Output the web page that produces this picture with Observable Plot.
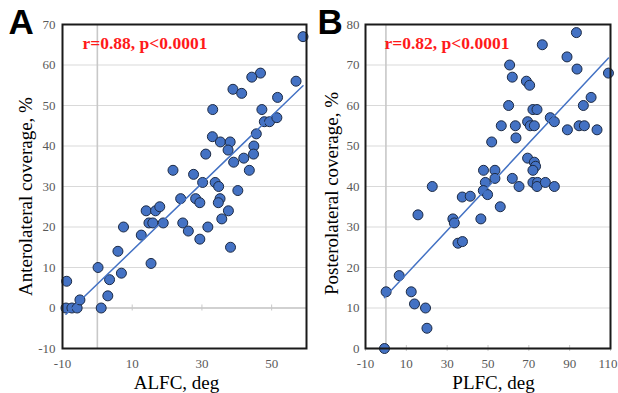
<!DOCTYPE html>
<html><head><meta charset="utf-8">
<script src="https://cdn.jsdelivr.net/npm/d3@7"></script>
<script src="https://cdn.jsdelivr.net/npm/@observablehq/plot@0.6"></script>
<style>
body{margin:0;background:#fff}
#wrap{display:flex;width:618px;height:393px;overflow:hidden}
</style>
</head><body><div id="wrap"></div>
<script>
// Panel A: ALFC (deg) vs anterolateral coverage (%)
const alfc = [59,46.8,44.3,57,38.9,41.4,51.7,33.1,47.2,47.9,49.4,51.5,45.6,33,35.3,38.1,44.9,37.5,44.8,31.1,42,39.1,43.6,21.7,27.6,30.2,33.8,34.8,40.3,23.9,28.2,35.2,29.4,34.7,14,16.7,17.9,14.8,15.9,18.9,12.6,7.5,24.5,26.1,29.4,31.7,35.7,37.6,38.2,15.4,5.9,6.9,0.2,3.5,3,1.1,-8.8,-9,-7.3,-5.8,-5];
const antCov = [67,58,57,56,54,53,52,49,49,46,46,47,43,42.3,41,41,40,39,38,38,37,36,34,34,33,31,31,30,29,27,27,27,26,26,24,24,25,21,21,21,18,20,21,19,17,20,22,24,15,11,14,8.6,10,7,3,0,6.6,0,0,0,2];
// Panel B: PLFC (deg) vs posterolateral coverage (%)
const plfc = [93.3,76.6,88.7,60.6,93.6,109,61.9,68.8,70.4,100.5,60.1,96.7,72,74,80.5,69.4,82.5,56.5,63.4,70.7,72.7,94.6,97.2,88.9,103.4,63.7,51.8,69.4,72.7,73.3,72,47.8,53.4,48.7,53.4,61.9,65.2,72,74.3,74,78.1,82.5,22.7,47.7,49.8,37.4,41.3,56,15.7,32.8,46.5,33.5,35.3,37.5,6.5,0.1,12.4,14,19.4,20.1,-0.7];
const postCov = [78,75,72,70,69,68,67,66,65,62,60,60,59,59,57,56,56,55,55,55,55,55,55,54,54,52,51,47,46,45,44,44,44,41,42,42,40,41,41,40,41,40,40,39,38,37.4,37.6,35,33,32,32,31,26,26.4,18,14,14,11,10,5,0];

const xTicksA = [-10,10,30,50];
const yTicksA = [-10,0,10,20,30,40,50,60,70];
const xTicksB = [-10,10,30,50,70,90,110];
const yTicksB = [0,10,20,30,40,50,60,70,80];

const panels = [
  {letter:"A", xs:alfc, ys:antCov, xDomain:[-10,60], yDomain:[-10,70], xTicks:xTicksA, yTicks:yTicksA,
   stat:"r=0.88, p<0.0001", xLabel:"ALFC, deg", yLabel:"Anterolateral coverage, %",
   mL:62, mR:3, letterDx:-54, statDx:20, yLabDx:-30.5, yLabDy:10, xLabDx:-8, yPad:7, lastEdge:false},
  {letter:"B", xs:plfc, ys:postCov, xDomain:[-10,110], yDomain:[0,80], xTicks:xTicksB, yTicks:yTicksB,
   stat:"r=0.82, p<0.0001", xLabel:"PLFC, deg", yLabel:"Posterolateral coverage, %",
   mL:56, mR:8, letterDx:-48, statDx:19, yLabDx:-28, yLabDy:7, xLabDx:5.5, yPad:6, lastEdge:true}
];

const wrap = document.getElementById("wrap");
for (const p of panels) {
  const data = p.xs.map((x, i) => ({x, y: p.ys[i]}));
  const serif = "Liberation Serif, Times New Roman, serif";
  const tickStyle = {tickSize: 0, tickPadding: 10, fontSize: 13, fill: "#595959", label: null, tickFormat: d => String(d)};
  const innerTicks = p.lastEdge ? p.xTicks.slice(0, -1) : p.xTicks;
  const xAxes = [Plot.axisX(innerTicks, tickStyle)];
  if (p.lastEdge) xAxes.push(Plot.axisX(p.xTicks.slice(-1), {...tickStyle, textAnchor: "end", dx: 7}));
  const chart = Plot.plot({
    width: 309, height: 393,
    marginLeft: p.mL, marginRight: p.mR, marginTop: 24, marginBottom: 45,
    x: {domain: p.xDomain},
    y: {domain: p.yDomain},
    style: {fontFamily: serif, background: "#fff"},
    marks: [
      Plot.gridY(p.yTicks, {stroke: "#d9d9d9", strokeOpacity: 1, strokeWidth: 1}),
      Plot.ruleY([0], {stroke: "#c8c8c8", strokeWidth: 1.3}),
      Plot.ruleX([0], {stroke: "#c8c8c8", strokeWidth: 1.6}),
      Plot.ruleX(p.xTicks, {y1: 0, y2: 0, insetTop: -3, insetBottom: -3, stroke: "#c8c8c8", strokeWidth: 1}),
      ...xAxes,
      Plot.axisY(p.yTicks, {tickSize: 0, tickPadding: p.yPad, fontSize: 13, fill: "#595959", label: null, tickFormat: d => String(d)}),
      Plot.dot(data, {x: "x", y: "y", r: 5, fill: "#4472c4", stroke: "#1c2a44", strokeWidth: 1}),
      Plot.linearRegressionY(data, {x: "x", y: "y", ci: 0, stroke: "#4472c4", strokeWidth: 1.5}),
      Plot.frame({stroke: "#1a1a1a", strokeWidth: 2}),
      Plot.text([p.letter], {text: d => d, frameAnchor: "top-left", dx: p.letterDx, dy: 9, lineAnchor: "bottom", textAnchor: "start",
        fontFamily: "Liberation Sans, Arial, sans-serif", fontWeight: "bold", fontSize: 35, fill: "#000"}),
      Plot.text([p.stat], {text: d => d, frameAnchor: "top-left", dx: p.statDx, dy: 24, lineAnchor: "bottom", textAnchor: "start",
        fontFamily: serif, fontWeight: "bold", fontSize: 17.5, fill: "#ff1a1a"}),
      Plot.text([p.yLabel], {text: d => d, frameAnchor: "left", rotate: -90, dx: p.yLabDx, dy: p.yLabDy, lineAnchor: "bottom", textAnchor: "middle",
        fontFamily: serif, fontSize: 19, fill: "#000"}),
      Plot.text([p.xLabel], {text: d => d, frameAnchor: "bottom", dx: p.xLabDx, dy: 40, lineAnchor: "bottom", textAnchor: "middle",
        fontFamily: serif, fontSize: 19, fill: "#000"})
    ]
  });
  wrap.appendChild(chart);
}
</script>
</body></html>
